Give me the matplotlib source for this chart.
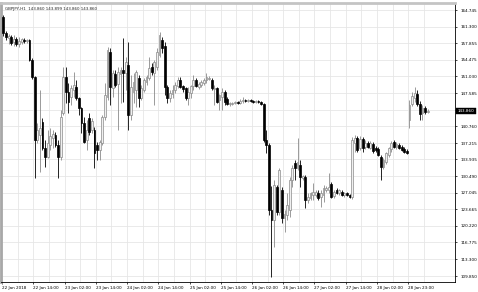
import matplotlib
matplotlib.use("Agg")
import matplotlib.pyplot as plt
import numpy as np

# GBPJPY H1 candles
opens = [163.30, 160.00, 158.97, 159.17, 158.14, 158.76, 157.73, 158.14, 158.55, 158.35,
         158.55, 154.43, 150.92, 137.92, 138.95, 141.63, 136.27, 134.41, 136.89, 138.33,
         138.95, 136.89, 134.41, 143.49, 150.92, 147.82, 146.79, 148.24, 148.86, 146.59,
         144.52, 141.43, 137.92, 142.46, 139.98, 139.98, 136.89, 135.86, 137.30, 142.67,
         146.79, 156.08, 148.65, 151.54, 149.47, 151.54, 152.36, 151.74, 153.40, 143.08,
         147.82, 148.24, 150.71, 146.59, 148.24, 149.89, 150.71, 152.98, 151.74, 152.98,
         155.46, 158.55, 157.32, 148.86, 146.59, 147.41, 148.24, 149.06, 150.30, 149.06,
         148.65, 146.59, 147.62, 149.06, 150.30, 148.86, 149.27, 149.68, 150.30, 150.51,
         150.30, 148.44, 148.65, 146.17, 146.79, 147.82, 146.38, 145.35, 145.45, 145.55,
         145.76, 145.55, 145.97, 146.17, 145.97, 146.17, 145.97, 145.76, 145.97, 145.76,
         145.35, 137.92, 136.89, 123.47, 121.41, 128.22, 123.06, 127.60, 121.82, 122.44,
         123.47, 129.67, 133.17, 132.14, 132.76, 130.08, 130.28, 125.54, 125.95, 126.57,
         126.57, 126.98, 126.16, 126.57, 127.60, 127.60, 128.84, 126.36, 127.60, 126.98,
         127.19, 126.57, 126.98, 126.57, 126.16, 137.30, 138.33, 136.27, 138.13, 136.47,
         137.30, 136.27, 137.09, 136.27, 136.06, 134.41, 132.35, 133.38, 134.82, 136.06,
         137.51, 136.47, 136.89, 136.47, 136.06, 135.65, 142.05, 145.35, 146.59, 147.41,
         145.35, 143.49, 144.52, 143.70]
highs = [163.71, 160.41, 159.79, 159.59, 159.59, 159.17, 159.17, 158.97, 158.97, 158.76,
         158.76, 154.84, 151.13, 141.43, 148.24, 142.46, 137.92, 139.98, 140.40, 139.98,
         139.57, 137.92, 144.11, 152.98, 152.98, 149.68, 149.27, 151.95, 150.30, 146.79,
         144.73, 142.67, 142.05, 143.49, 142.46, 140.60, 137.51, 137.92, 143.08, 149.68,
         157.11, 156.90, 152.36, 152.36, 152.98, 152.98, 158.97, 155.05, 158.14, 151.33,
         151.74, 152.36, 151.33, 149.27, 150.71, 151.33, 155.05, 153.81, 154.43, 156.90,
         160.20, 159.17, 158.14, 149.27, 148.24, 149.27, 149.89, 150.92, 150.92, 149.27,
         148.86, 148.86, 149.27, 151.33, 150.71, 149.89, 150.30, 150.71, 151.74, 151.13,
         150.71, 149.27, 148.86, 147.41, 148.65, 148.24, 146.79, 145.76, 145.76, 145.97,
         145.97, 146.38, 146.79, 146.38, 146.38, 146.38, 146.17, 146.17, 146.17, 145.97,
         145.55, 139.98, 137.30, 128.43, 129.67, 128.64, 132.14, 128.22, 123.47, 126.98,
         130.28, 132.76, 133.79, 138.33, 133.79, 130.70, 130.70, 126.98, 127.19, 129.05,
         127.60, 127.60, 127.60, 128.64, 128.43, 131.11, 129.25, 127.60, 128.01, 127.81,
         127.60, 127.19, 127.19, 126.78, 138.54, 138.95, 138.74, 138.74, 138.54, 137.92,
         137.71, 137.71, 137.51, 136.68, 136.47, 134.82, 134.20, 135.44, 136.47, 137.71,
         137.92, 137.51, 137.30, 136.89, 136.47, 136.06, 146.17, 147.82, 148.86, 148.24,
         145.97, 145.14, 144.93, 144.32]
lows = [159.38, 158.55, 157.73, 157.52, 157.32, 157.32, 157.11, 157.73, 157.94, 157.94,
        154.22, 150.51, 130.08, 137.30, 131.32, 135.86, 132.35, 134.20, 135.86, 136.27,
        136.47, 130.08, 133.79, 143.08, 145.55, 143.49, 145.14, 146.79, 146.17, 143.08,
        139.36, 137.30, 135.86, 138.95, 139.36, 132.14, 133.79, 133.79, 136.89, 142.05,
        146.17, 145.14, 146.79, 148.86, 139.98, 145.55, 145.76, 148.24, 139.98, 142.05,
        145.55, 144.73, 144.73, 146.17, 147.82, 149.27, 150.30, 151.33, 145.14, 152.36,
        155.05, 155.87, 147.20, 145.55, 145.76, 146.59, 147.62, 148.65, 148.65, 147.82,
        146.17, 145.14, 146.59, 148.24, 148.86, 148.44, 148.86, 149.27, 149.68, 150.30,
        148.24, 145.14, 145.55, 144.11, 144.11, 145.14, 145.14, 144.93, 145.14, 145.35,
        145.35, 145.35, 145.55, 145.76, 145.76, 145.76, 145.55, 145.55, 145.55, 145.14,
        137.51, 135.24, 122.44, 109.65, 115.84, 122.44, 122.44, 120.79, 118.94, 121.41,
        122.03, 128.22, 129.67, 131.73, 128.22, 129.67, 123.89, 124.92, 125.54, 125.54,
        126.16, 125.54, 124.09, 125.13, 127.19, 126.98, 125.95, 125.95, 126.78, 126.57,
        126.36, 126.16, 126.36, 125.95, 125.74, 135.44, 135.44, 135.86, 135.44, 136.06,
        136.27, 136.06, 135.24, 135.44, 134.62, 129.67, 131.93, 132.97, 134.41, 135.44,
        136.27, 136.06, 136.06, 135.65, 135.24, 135.03, 140.40, 144.93, 145.76, 144.93,
        142.05, 142.05, 143.28, 143.49]
closes = [160.00, 159.17, 159.38, 157.94, 158.76, 157.73, 158.35, 158.76, 158.35, 158.55,
          154.43, 150.92, 137.92, 139.98, 140.40, 136.27, 134.41, 137.30, 138.74, 139.16,
          136.89, 134.41, 142.67, 150.92, 147.82, 145.76, 148.65, 149.27, 146.59, 144.52,
          141.43, 137.51, 139.98, 139.57, 141.84, 135.24, 135.86, 137.51, 142.67, 147.20,
          156.49, 148.86, 151.74, 149.27, 151.95, 152.36, 151.74, 154.01, 143.08, 148.86,
          149.89, 151.95, 146.59, 148.65, 150.30, 150.92, 152.78, 151.95, 154.01, 156.08,
          159.59, 156.90, 148.86, 146.59, 147.62, 148.24, 149.27, 150.30, 148.86, 148.44,
          146.59, 147.82, 149.06, 150.30, 149.06, 149.47, 149.89, 150.30, 150.92, 150.71,
          148.65, 148.65, 145.76, 147.20, 147.82, 145.76, 145.35, 145.55, 145.55, 145.76,
          145.55, 145.97, 146.17, 145.97, 146.17, 145.97, 145.76, 145.97, 145.66, 145.35,
          137.92, 136.89, 123.47, 121.41, 128.64, 123.06, 131.73, 121.82, 122.65, 124.51,
          129.67, 132.14, 132.14, 133.38, 130.28, 130.49, 125.54, 126.16, 126.98, 127.19,
          127.19, 125.95, 126.98, 128.01, 128.01, 128.22, 126.16, 127.19, 126.98, 127.60,
          126.57, 126.98, 126.57, 126.16, 137.92, 138.33, 135.86, 138.13, 136.27, 137.30,
          136.47, 137.30, 135.65, 135.86, 134.82, 132.35, 133.79, 135.24, 136.27, 137.30,
          136.47, 137.09, 136.27, 135.86, 135.44, 135.24, 145.14, 147.00, 147.62, 145.35,
          143.28, 144.52, 143.70, 143.86]

x_labels = ["22 Jan 2018", "22 Jan 14:00", "23 Jan 02:00", "23 Jan 14:00", "24 Jan 02:00",
            "24 Jan 14:00", "25 Jan 02:00", "25 Jan 14:00", "26 Jan 02:00", "26 Jan 14:00",
            "27 Jan 02:00", "27 Jan 14:00", "28 Jan 02:00", "28 Jan 23:00"]
y_labels = ["164.745", "161.300", "157.855", "154.475", "151.030", "147.585", "144.140",
            "140.760", "137.215", "133.935", "130.490", "127.045", "123.665", "120.220",
            "116.775", "113.300", "109.850"]
header = "GBPJPY,H1  143.860 143.899 143.860 143.860"
last_price = 143.860


def main():
    o = np.array(opens)
    h = np.array(highs)
    l = np.array(lows)
    c = np.array(closes)
    idx = np.arange(len(c))
    up = c >= o

    fig = plt.figure(figsize=(4.78, 2.92), dpi=100)
    ax = fig.add_axes([1 / 478, 10 / 292, 454 / 478, 279 / 292])
    ax.set_axisbelow(True)

    # wicks then bodies
    ax.vlines(idx[up], l[up], h[up], color="#8a8a8a", lw=0.6, zorder=2)
    ax.vlines(idx[~up], l[~up], h[~up], color="black", lw=0.6, zorder=2)
    body = np.maximum(np.abs(c - o), 0.12)
    bottom = np.minimum(o, c)
    ax.bar(idx[up], body[up], bottom=bottom[up], width=0.7,
           color="#f0f0f0", edgecolor="#8a8a8a", lw=0.5, zorder=3)
    ax.bar(idx[~up], body[~up], bottom=bottom[~up], width=0.7,
           color="black", edgecolor="black", lw=0.5, zorder=3)

    ax.set_xlim(-0.92, 165.98)
    ax.set_ylim(108.62, 166.19)

    # x axis: labels every 12 bars, grid every 6
    ax.set_xticks(np.arange(len(x_labels)) * 12 - 0.5)
    ax.set_xticklabels(x_labels, ha="left")
    ax.set_xticks(np.arange(len(x_labels) + 1) * 12 + 5.5, minor=True)

    yt = [float(v) for v in y_labels]
    ax.yaxis.tick_right()
    ax.set_yticks(yt)
    ax.set_yticklabels(["" if v == "144.140" else v for v in y_labels])

    ax.tick_params(axis="both", which="both", length=1.5, width=0.5,
                   pad=1.2, colors="black")
    ax.tick_params(axis="x", labelsize=3.0, pad=1.5)
    ax.tick_params(axis="y", labelsize=3.0, pad=2.5)
    ax.tick_params(axis="x", which="minor", length=0)
    ax.grid(True, which="both", color="#e6e6e6", lw=0.6)

    for side in ["right", "bottom"]:
        ax.spines[side].set_color("black")
        ax.spines[side].set_linewidth(0.6)
    ax.spines["left"].set_color("#a8a8a8")
    ax.spines["left"].set_linewidth(2.0)
    ax.spines["top"].set_color("#c4c4c4")
    ax.spines["top"].set_linewidth(2.0)

    ax.text(0.008, 0.985, header, transform=ax.transAxes, fontsize=2.9,
            va="top", ha="left", color="#222222")

    # current price box on the price scale
    ax.text(1.006, last_price, "%.3f" % last_price,
            transform=ax.get_yaxis_transform(), fontsize=3.0, color="white",
            va="center", ha="left", clip_on=False, zorder=10,
            bbox=dict(boxstyle="square,pad=0.3", fc="black", ec="black", lw=0.3))

    fig.savefig("out.png", dpi=100)


if __name__ == "__main__":
    main()
